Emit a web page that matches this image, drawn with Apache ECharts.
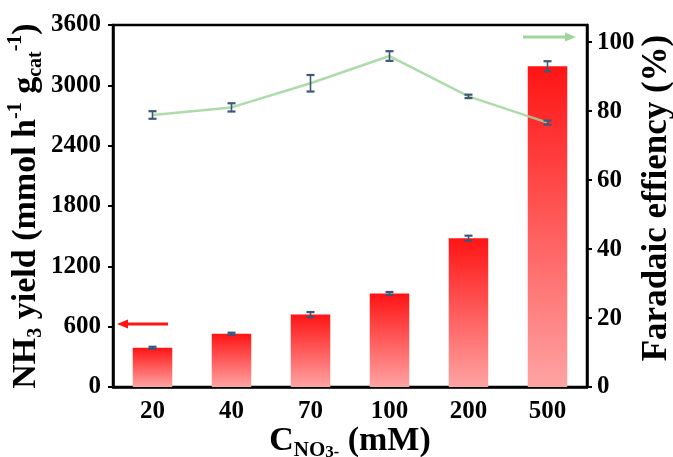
<!DOCTYPE html>
<html>
<head>
<meta charset="utf-8">
<script src="https://cdn.jsdelivr.net/npm/echarts@6/dist/echarts.min.js"></script>
<style>
  html, body { margin: 0; padding: 0; background: #fff; }
  #chart { width: 673px; height: 457px; }
</style>
</head>
<body>
<div id="chart"></div>
<script>
// Nitrate concentration (mM)
const concentrations = ['20', '40', '70', '100', '200', '500'];
// NH3 yield (mmol h^-1 g_cat^-1) and its error
const yieldValues = [390, 530, 720, 930, 1480, 3190];
const yieldErrors = [10, 10, 25, 15, 25, 50];
// Faradaic efficiency (%) and its error
const feValues = [78.9, 81.1, 88.1, 96.0, 84.3, 76.7];
const feErrors = [1.1, 1.2, 2.4, 1.4, 0.5, 0.6];

const FONT = '"Liberation Serif", "Times New Roman", serif';
const ERR_COLOR = '#3c5877';
const LINE_COLOR = '#9fd59b';
const RED = '#ff1414';

const chart = echarts.init(document.getElementById('chart'));

function errorBarItem(values, errors) {
  return function (params, api) {
    const i = params.dataIndex;
    const x = api.value(0);
    const hi = api.coord([x, values[i] + errors[i]]);
    const lo = api.coord([x, values[i] - errors[i]]);
    const half = 4;
    const stem = { stroke: ERR_COLOR, lineWidth: 1.6 };
    const cap = { stroke: ERR_COLOR, lineWidth: 2.2 };
    return {
      type: 'group',
      children: [
        { type: 'line', shape: { x1: hi[0], y1: hi[1], x2: lo[0], y2: lo[1] }, style: stem },
        { type: 'line', shape: { x1: hi[0] - half, y1: hi[1], x2: hi[0] + half, y2: hi[1] }, style: cap },
        { type: 'line', shape: { x1: lo[0] - half, y1: lo[1], x2: lo[0] + half, y2: lo[1] }, style: cap }
      ]
    };
  };
}

const labelStyle = { fontFamily: FONT, fontWeight: 'bold', fontSize: 25, color: '#000' };
const plain = v => String(v);

const option = {
  animation: false,
  backgroundColor: '#fff',
  grid: {
    left: 113, right: 86, top: 25, bottom: 70,
    containLabel: false,
    outerBoundsMode: 'none',
    show: true, borderColor: '#000', borderWidth: 2.5, backgroundColor: 'transparent'
  },
  xAxis: {
    type: 'category',
    data: concentrations,
    axisLine: { lineStyle: { color: '#000', width: 2.5 } },
    axisTick: { alignWithLabel: true, length: 5, lineStyle: { color: '#000', width: 2 } },
    axisLabel: Object.assign({ margin: 12 }, labelStyle),
    name: '{m|C}{sub|NO}{sub2|3}{sup|-}{m| (mM)}',
    nameLocation: 'middle',
    nameGap: 34,
    nameMoveOverlap: false,
    nameTextStyle: {
      rich: {
        m: { fontFamily: FONT, fontWeight: 'bold', fontSize: 34, color: '#000', lineHeight: 40 },
        sub: { fontFamily: FONT, fontWeight: 'bold', fontSize: 21, color: '#000', lineHeight: 14, verticalAlign: 'bottom' },
        sub2: { fontFamily: FONT, fontWeight: 'bold', fontSize: 17, color: '#000', lineHeight: 12, verticalAlign: 'bottom' },
        sup: { fontFamily: FONT, fontWeight: 'bold', fontSize: 16, color: '#000', lineHeight: 33, verticalAlign: 'bottom' }
      }
    }
  },
  yAxis: [
    {
      type: 'value',
      min: 0, max: 3600, interval: 600,
      splitLine: { show: false },
      axisLine: { show: true, lineStyle: { color: '#000', width: 2.5 } },
      axisTick: { show: true, length: 5, lineStyle: { color: '#000', width: 2 } },
      axisLabel: Object.assign({ margin: 12, formatter: plain }, labelStyle),
      name: '{m|NH}{sub|3}{m| yield (mmol h}{sup|-1}{m| g}{sub|cat}{sup|-1}{m|)}',
      nameLocation: 'middle',
      nameGap: 67,
      nameMoveOverlap: false,
      nameRotate: 90,
      nameTextStyle: {
        rich: {
          m: { fontFamily: FONT, fontWeight: 'bold', fontSize: 34, color: '#000', lineHeight: 40 },
          sub: { fontFamily: FONT, fontWeight: 'bold', fontSize: 20, color: '#000', lineHeight: 14, verticalAlign: 'bottom' },
          sup: { fontFamily: FONT, fontWeight: 'bold', fontSize: 20, color: '#000', lineHeight: 30, verticalAlign: 'top' }
        }
      }
    },
    {
      type: 'value',
      min: 0, max: 105, interval: 20,
      splitLine: { show: false },
      axisLine: { show: true, lineStyle: { color: '#000', width: 2.5 } },
      axisTick: { show: true, length: 5, lineStyle: { color: '#000', width: 2 } },
      axisLabel: Object.assign({ margin: 10, showMaxLabel: false, formatter: plain }, labelStyle),
      name: 'Faradaic effiency (%)',
      nameLocation: 'middle',
      nameGap: 52,
      nameMoveOverlap: false,
      nameRotate: 90,
      nameTextStyle: { fontFamily: FONT, fontWeight: 'bold', fontSize: 35, color: '#000', padding: [0, 0, 0, 16] }
    }
  ],
  series: [
    {
      type: 'bar',
      yAxisIndex: 0,
      data: yieldValues,
      barWidth: '50%',
      itemStyle: {
        color: new echarts.graphic.LinearGradient(0, 0, 0, 1, [
          { offset: 0, color: RED },
          { offset: 1, color: '#ffa3a3' }
        ])
      },
      z: 2
    },
    {
      type: 'custom',
      yAxisIndex: 0,
      data: concentrations.map((c, i) => [i, yieldValues[i]]),
      renderItem: errorBarItem(yieldValues, yieldErrors),
      z: 4
    },
    {
      type: 'line',
      yAxisIndex: 1,
      data: feValues,
      symbol: 'none',
      lineStyle: { color: LINE_COLOR, width: 2.5, opacity: 0.85 },
      z: 5
    },
    {
      type: 'custom',
      yAxisIndex: 1,
      data: concentrations.map((c, i) => [i, feValues[i]]),
      renderItem: errorBarItem(feValues, feErrors),
      z: 6
    }
  ],
  graphic: [
    // arrow pointing to the left (yield) axis
    { type: 'line', shape: { x1: 168, y1: 324, x2: 126, y2: 324 }, style: { stroke: RED, lineWidth: 3 } },
    { type: 'polygon', shape: { points: [[117, 324], [128, 319.5], [128, 328.5]] }, style: { fill: RED } },
    // arrow pointing to the right (efficiency) axis
    { type: 'line', shape: { x1: 523, y1: 37, x2: 565, y2: 37 }, style: { stroke: LINE_COLOR, lineWidth: 3 } },
    { type: 'polygon', shape: { points: [[576, 37], [565, 32.5], [565, 41.5]] }, style: { fill: LINE_COLOR } }
  ]
};

chart.setOption(option);
</script>
</body>
</html>
